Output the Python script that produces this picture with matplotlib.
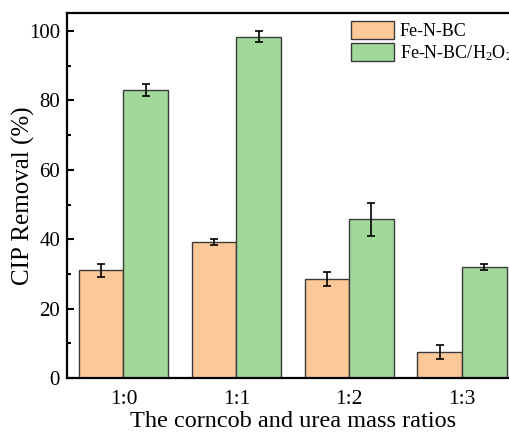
import numpy as np
import matplotlib
matplotlib.use('Agg')
import matplotlib.pyplot as plt
import matplotlib as mpl
mpl.rcParams['font.family'] = ['Liberation Serif', 'DejaVu Serif']
mpl.rcParams['mathtext.fontset'] = 'custom'
mpl.rcParams['mathtext.rm'] = 'Liberation Serif'
mpl.rcParams['mathtext.default'] = 'regular'

ratios = ['1:0', '1:1', '1:2', '1:3']
fe_n_bc = [31.0, 39.2, 28.5, 7.4]
fe_n_bc_err = [1.9, 0.9, 2.0, 2.0]
fe_n_bc_h2o2 = [83.0, 98.4, 45.7, 32.0]
fe_n_bc_h2o2_err = [1.8, 1.5, 4.8, 0.9]

fig = plt.figure(figsize=(5.1, 4.34), dpi=100)
ax = fig.add_axes([67/510, 56/434, 451.5/510, 365/434])

x = np.arange(len(ratios))
w = 0.395
ax.bar(x - w/2, fe_n_bc, w, color='#fdc897', edgecolor='#3a3a3a', linewidth=1.0, label='Fe-N-BC')
ax.bar(x + w/2, fe_n_bc_h2o2, w, color='#a1d99b', edgecolor='#3a3a3a', linewidth=1.0, label='Fe-N-BC/H$_2$O$_2$')
ax.errorbar(x - w/2, fe_n_bc, yerr=fe_n_bc_err, fmt='none', ecolor='black', elinewidth=1.2, capsize=3, capthick=1.2)
ax.errorbar(x + w/2, fe_n_bc_h2o2, yerr=fe_n_bc_h2o2_err, fmt='none', ecolor='black', elinewidth=1.2, capsize=3, capthick=1.2)

ax.set_xlim(-0.5, 3.5)
ax.set_ylim(0, 105.2)
ax.set_xticks(x)
ax.set_xticklabels(ratios)
ax.set_yticks(np.arange(0, 101, 20))
ax.set_yticks(np.arange(10, 101, 20), minor=True)
ax.tick_params(axis='x', length=0, labelsize=15.5, pad=9)
ax.tick_params(axis='y', which='major', direction='in', length=5, width=1.5, labelsize=15, pad=5)
ax.tick_params(axis='y', which='minor', direction='in', length=3, width=1.5)
for s in ax.spines.values():
    s.set_linewidth(1.6)

ax.set_xlabel('The corncob and urea mass ratios', fontsize=17.5, labelpad=1)
ax.set_ylabel('CIP Removal (%)', fontsize=18, labelpad=-4.5)

ax.legend(loc='upper left', bbox_to_anchor=(0.629, 0.978), frameon=False, fontsize=13,
          borderaxespad=0, borderpad=0, handlelength=2.4, handleheight=1.15,
          handletextpad=0.3, labelspacing=0.15)

plt.savefig('out.png', dpi=100)
